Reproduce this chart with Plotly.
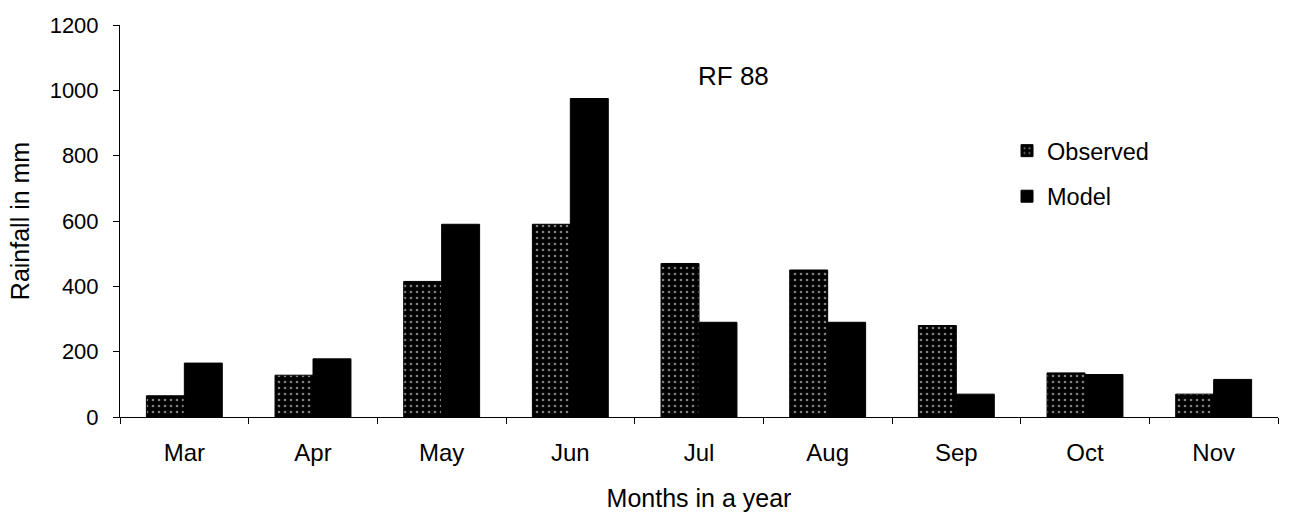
import plotly.graph_objects as go

months = ["Mar", "Apr", "May", "Jun", "Jul", "Aug", "Sep", "Oct", "Nov"]
observed = [65, 128, 415, 590, 470, 450, 280, 135, 70]
model = [165, 178, 590, 975, 290, 290, 70, 130, 115]
y_ticks = [0, 200, 400, 600, 800, 1000, 1200]

FONT = "Liberation Sans, Arial, sans-serif"

fig = go.Figure()
fig.add_trace(go.Bar(
    x=months, y=observed, name="Observed", legendgroup="obs",
    marker=dict(color="black", line=dict(color="black", width=1),
                pattern=dict(shape=".", fgcolor="white", bgcolor="black",
                             size=6, solidity=0.15, fillmode="overlay")),
))
fig.add_trace(go.Bar(
    x=months, y=model, name="Model", legendgroup="mod",
    marker=dict(color="black", line=dict(color="black", width=1)),
))

fig.update_layout(
    width=1290, height=512,
    margin=dict(l=120, r=12, t=25, b=95),
    paper_bgcolor="white", plot_bgcolor="white",
    barmode="group", bargap=0.41, bargroupgap=0,
    font=dict(family=FONT, size=22, color="black"),
    showlegend=True,
    legend=dict(x=0.766, y=0.735, xanchor="left", yanchor="top",
                font=dict(size=23.5), bgcolor="rgba(0,0,0,0)",
                itemwidth=30, tracegroupgap=12),
    annotations=[dict(text="RF 88", x=0.53, y=0.87, xref="paper", yref="paper",
                      showarrow=False, font=dict(size=26), xanchor="center", yanchor="middle")],
)
fig.update_xaxes(
    automargin=False,
    showline=True, linecolor="black", linewidth=1,
    ticks="outside", ticklen=6, tickcolor="black", tickson="boundaries",
    ticklabelstandoff=14,
    showgrid=False,
    title=dict(text="Months in a year", font=dict(size=25), standoff=24),
    tickfont=dict(size=24),
)
fig.update_yaxes(
    automargin=False,
    range=[0, 1200], tickvals=y_ticks,
    showline=True, linecolor="black", linewidth=1,
    ticks="outside", ticklen=6, tickcolor="black",
    ticklabelstandoff=10,
    showgrid=False, zeroline=False,
    title=dict(text="Rainfall in mm", font=dict(size=25), standoff=12),
    tickfont=dict(size=22),
)

fig.write_html("out.html")
